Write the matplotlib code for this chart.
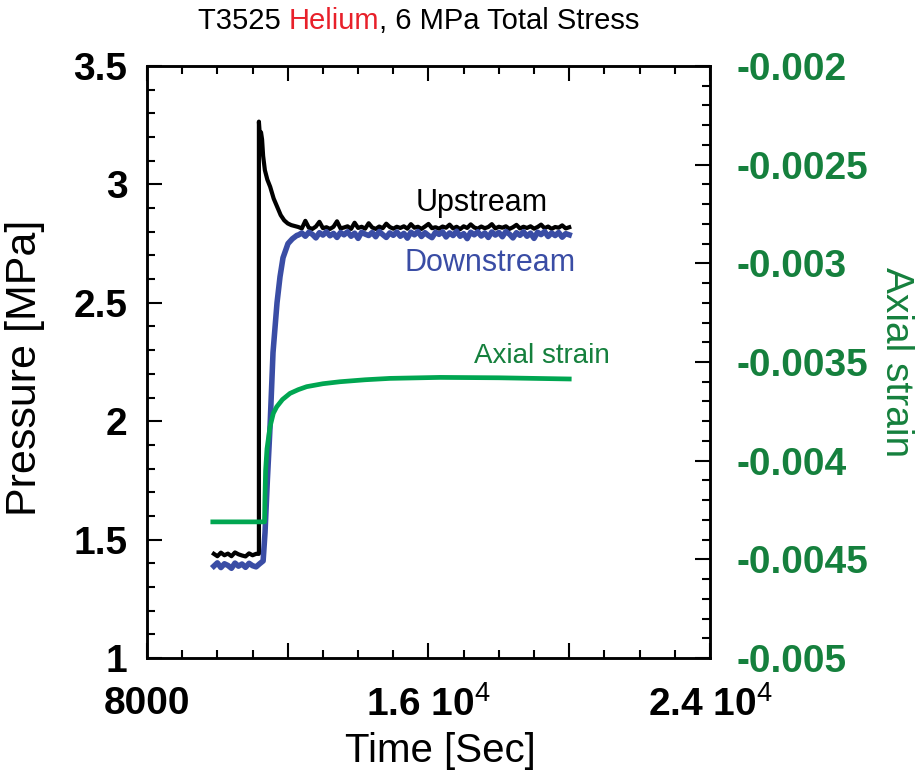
import numpy as np
import matplotlib
matplotlib.use("Agg")
import matplotlib.pyplot as plt
from matplotlib.ticker import MultipleLocator

plt.rcParams["font.family"] = ["Liberation Sans", "DejaVu Sans"]
plt.rcParams["mathtext.fontset"] = "custom"
plt.rcParams["mathtext.rm"] = "Liberation Sans"
plt.rcParams["mathtext.bf"] = "Liberation Sans:bold"

# ---------------- data ----------------
# Upstream pressure [MPa]
up_base_t = np.arange(9900, 11101, 100)
up_base = [1.440, 1.430, 1.445, 1.434, 1.441, 1.430, 1.446, 1.438, 1.433, 1.429,
           1.442, 1.434, 1.440]
up_step_t = [11180, 11180, 11210, 11240, 11270, 11300, 11350, 11420, 11500, 11600,
             11700, 11800, 11900, 12000, 12100, 12200]
up_step = [1.440, 3.265, 3.200, 3.220, 3.190, 3.120, 3.060, 3.020, 2.990, 2.940,
           2.905, 2.870, 2.848, 2.835, 2.828, 2.824]
up_plat_t = np.arange(12300, 20001, 100)
up_plat = [
    2.820, 2.814, 2.846, 2.817, 2.812, 2.822, 2.842, 2.815, 2.819, 2.812,
    2.821, 2.844, 2.814, 2.818, 2.823, 2.812, 2.838, 2.816, 2.821, 2.813,
    2.836, 2.818, 2.812, 2.822, 2.815, 2.834, 2.820, 2.813, 2.821, 2.816,
    2.823, 2.813, 2.832, 2.817, 2.821, 2.812, 2.822, 2.833, 2.815, 2.819,
    2.813, 2.822, 2.817, 2.830, 2.814, 2.821, 2.811, 2.823, 2.816, 2.831,
    2.818, 2.813, 2.822, 2.815, 2.820, 2.832, 2.814, 2.821, 2.817, 2.823,
    2.812, 2.819, 2.829, 2.814, 2.821, 2.816, 2.823, 2.813, 2.820, 2.830,
    2.815, 2.822, 2.812, 2.820, 2.817, 2.827, 2.814, 2.819,
]

# Downstream pressure [MPa]
dn_base_t = np.arange(9900, 11201, 100)
dn_base = [1.388, 1.402, 1.382, 1.398, 1.391, 1.379, 1.401, 1.388, 1.397, 1.383,
           1.400, 1.390, 1.385, 1.398]
dn_step_t = [11300, 11354, 11420, 11496, 11581, 11695, 11780, 11865, 12007, 12130, 12263]
dn_step = [1.410, 1.530, 1.750, 1.975, 2.290, 2.500, 2.610, 2.690, 2.750, 2.770, 2.785]
dn_plat_t = np.arange(12300, 20001, 100)
dn_plat = [
    2.786, 2.795, 2.781, 2.798, 2.789, 2.774, 2.796, 2.786, 2.800, 2.783,
    2.793, 2.776, 2.797, 2.787, 2.800, 2.781, 2.794, 2.772, 2.798, 2.790,
    2.784, 2.797, 2.779, 2.801, 2.788, 2.776, 2.795, 2.785, 2.799, 2.781,
    2.793, 2.773, 2.798, 2.787, 2.801, 2.780, 2.796, 2.784, 2.775, 2.798,
    2.789, 2.800, 2.778, 2.795, 2.784, 2.802, 2.781, 2.792, 2.771, 2.798,
    2.787, 2.800, 2.782, 2.795, 2.776, 2.799, 2.786, 2.797, 2.779, 2.801,
    2.790, 2.774, 2.796, 2.785, 2.800, 2.781, 2.794, 2.772, 2.798, 2.788,
    2.801, 2.780, 2.795, 2.784, 2.797, 2.777, 2.792, 2.787,
]

# Axial strain [-]
strain_t = [9870, 11340, 11350, 11370, 11410, 11496, 11590, 11686, 11850, 12064,
            12300, 12538, 13000, 13485, 14200, 14906, 16327, 18000, 20000]
strain = [-0.00431, -0.00431, -0.00420, -0.00405, -0.00394, -0.003828, -0.00376,
          -0.003727, -0.00369, -0.003659, -0.00364, -0.003625, -0.00361, -0.00360,
          -0.00359, -0.003583, -0.003578, -0.00358, -0.003586]

x_ticks = [8000, 12000, 16000, 20000, 24000]
x_labels = ["8000", "", r"1.6 10$^{4}$", "", r"2.4 10$^{4}$"]
p_ticks = [1.0, 1.5, 2.0, 2.5, 3.0, 3.5]
p_labels = ["1", "1.5", "2", "2.5", "3", "3.5"]
s_ticks = [-0.005, -0.0045, -0.004, -0.0035, -0.003, -0.0025, -0.002]
s_labels = ["-0.005", "-0.0045", "-0.004", "-0.0035", "-0.003", "-0.0025", "-0.002"]

BLACK = "#000000"
BLUE = "#3A4DA5"
GREEN = "#00A651"
GREEN_TXT = "#15803D"
RED = "#E8202A"

# ---------------- figure ----------------
fig = plt.figure(figsize=(9.2, 7.76), dpi=100)
ax = fig.add_axes([0.1598, 0.152, 0.6119, 0.763])
ax2 = ax.twinx()

up_t = np.concatenate([up_base_t, up_step_t, up_plat_t])
up_p = np.concatenate([up_base, up_step, up_plat])
dn_t = np.concatenate([dn_base_t, dn_step_t, dn_plat_t])
dn_p = np.concatenate([dn_base, dn_step, dn_plat])

ax.plot(up_t, up_p, color=BLACK, lw=3.0, zorder=2)
ax.plot(dn_t, dn_p, color=BLUE, lw=4.0, zorder=3)
ax2.plot(strain_t, strain, color=GREEN, lw=3.4, zorder=4)

ax.set_xlim(8000, 24000)
ax.set_ylim(1.0, 3.5)
ax2.set_ylim(-0.005, -0.002)

ax.set_xticks(x_ticks)
ax.set_xticklabels(x_labels, fontsize=28, fontweight="bold")
ax.xaxis.set_minor_locator(MultipleLocator(1000))
ax.set_yticks(p_ticks)
ax.set_yticklabels(p_labels, fontsize=28, fontweight="bold")
ax.yaxis.set_minor_locator(MultipleLocator(0.1))
ax2.set_yticks(s_ticks)
ax2.set_yticklabels(s_labels, fontsize=28, fontweight="bold", color=GREEN_TXT)
ax2.yaxis.set_minor_locator(MultipleLocator(0.0001))

ax.tick_params(axis="x", which="both", direction="in", top=True, bottom=True, width=1.5)
ax.tick_params(axis="x", which="major", length=11, pad=20)
ax.tick_params(axis="x", which="minor", length=6)
ax.tick_params(axis="y", which="both", direction="in", left=True, right=False, width=1.5)
ax.tick_params(axis="y", which="major", length=11, pad=14)
ax.tick_params(axis="y", which="minor", length=6)
ax2.tick_params(axis="y", which="both", direction="in", right=True, left=False, width=1.5)
ax2.tick_params(axis="y", which="major", length=11, pad=19)
ax2.tick_params(axis="y", which="minor", length=6)

for a in (ax, ax2):
    for s in a.spines.values():
        s.set_linewidth(1.8)

ax.set_xlabel("Time [Sec]", fontsize=29)
ax.xaxis.set_label_coords(0.522, -0.125)
ax.set_ylabel("Pressure [MPa]", fontsize=31)
ax.yaxis.set_label_coords(-0.182, 0.49)
ax2.set_ylabel("Axial strain", fontsize=28, color=GREEN_TXT, rotation=270, labelpad=33)

# curve labels
ax.text(17520, 2.921, "Upstream", fontsize=22, color=BLACK, ha="center", va="center")
ax.text(17750, 2.668, "Downstream", fontsize=22, color=BLUE, ha="center", va="center")
ax.text(21160, 2.275, "Axial strain", fontsize=20, color=GREEN_TXT, ha="right", va="center")

# two-colour title
parts = [("T3525 ", BLACK), ("Helium", RED), (", 6 MPa Total Stress", BLACK)]
fig.canvas.draw()
renderer = fig.canvas.get_renderer()
texts = [fig.text(0, 0.962, s, color=c, fontsize=21, va="baseline") for s, c in parts]
widths = [t.get_window_extent(renderer).width for t in texts]
total = sum(widths)
x0 = 0.455 * fig.bbox.width - total / 2
for t, w in zip(texts, widths):
    t.set_x(x0 / fig.bbox.width)
    x0 += w

fig.savefig("out.png", dpi=100)
